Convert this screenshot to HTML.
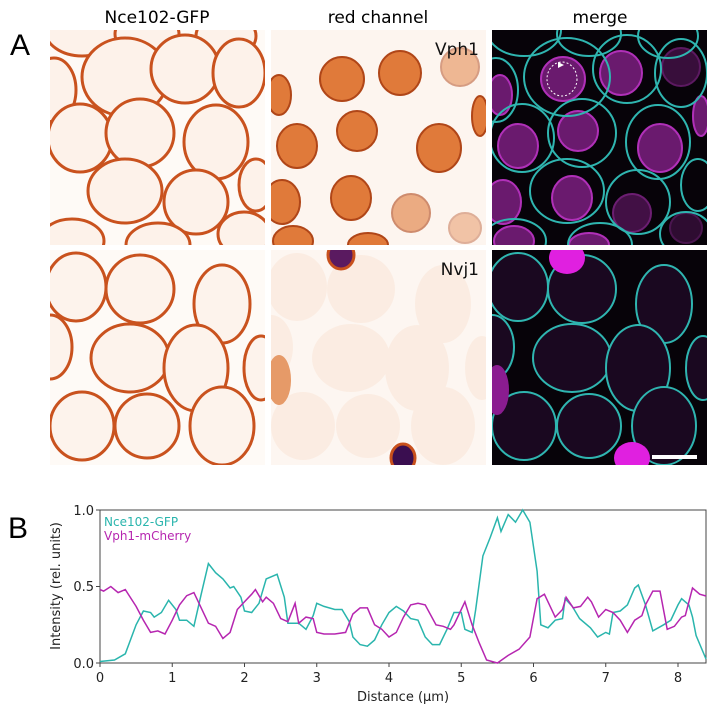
<!DOCTYPE html>
<html><head><meta charset="utf-8"><style>
body{margin:0;background:#fff;width:714px;height:709px;overflow:hidden;font-family:"DejaVu Sans","Liberation Sans",sans-serif;}
</style></head><body>
<svg width="714" height="709" viewBox="0 0 714 709" xmlns="http://www.w3.org/2000/svg">
<defs>
<g id="topCells">
<ellipse cx="32" cy="0" rx="37" ry="26"/><ellipse cx="97" cy="4" rx="32" ry="22"/><ellipse cx="176" cy="6" rx="30" ry="22"/>
<ellipse cx="75" cy="47" rx="43" ry="39"/><ellipse cx="135" cy="39" rx="34" ry="34"/><ellipse cx="189" cy="43" rx="26" ry="34"/>
<ellipse cx="4" cy="60" rx="22" ry="32"/><ellipse cx="30" cy="108" rx="32" ry="34"/><ellipse cx="90" cy="103" rx="34" ry="34"/>
<ellipse cx="166" cy="112" rx="32" ry="37"/><ellipse cx="75" cy="161" rx="37" ry="32"/><ellipse cx="146" cy="172" rx="32" ry="32"/>
<ellipse cx="206" cy="155" rx="17" ry="26"/><ellipse cx="22" cy="211" rx="32" ry="22"/><ellipse cx="108" cy="215" rx="32" ry="22"/>
<ellipse cx="194" cy="204" rx="26" ry="22"/>
</g>
<g id="botCells">
<ellipse cx="26" cy="37" rx="30" ry="34"/><ellipse cx="90" cy="39" rx="34" ry="34"/><ellipse cx="172" cy="54" rx="28" ry="39"/>
<ellipse cx="80" cy="108" rx="39" ry="34"/><ellipse cx="146" cy="118" rx="32" ry="43"/><ellipse cx="0" cy="97" rx="22" ry="32"/>
<ellipse cx="32" cy="176" rx="32" ry="34"/><ellipse cx="97" cy="176" rx="32" ry="32"/><ellipse cx="172" cy="176" rx="32" ry="39"/>
<ellipse cx="211" cy="118" rx="17" ry="32"/>
</g>
<g id="topVac">
<ellipse cx="71" cy="49" rx="22" ry="22"/><ellipse cx="129" cy="43" rx="21" ry="22"/><ellipse cx="189" cy="37" rx="19" ry="19" opacity="0.5"/>
<ellipse cx="8" cy="65" rx="12" ry="20"/><ellipse cx="86" cy="101" rx="20" ry="20"/><ellipse cx="26" cy="116" rx="20" ry="22"/>
<ellipse cx="168" cy="118" rx="22" ry="24"/><ellipse cx="11" cy="172" rx="18" ry="22"/><ellipse cx="80" cy="168" rx="20" ry="22"/>
<ellipse cx="140" cy="183" rx="19" ry="19" opacity="0.6"/><ellipse cx="194" cy="198" rx="16" ry="15" opacity="0.4"/>
<ellipse cx="22" cy="211" rx="20" ry="15"/><ellipse cx="97" cy="215" rx="20" ry="12"/><ellipse cx="209" cy="86" rx="8" ry="20"/>
</g>
<clipPath id="cp"><rect x="0" y="0" width="215" height="215"/></clipPath>
</defs>

<text x="10" y="55" font-size="30" font-family="Liberation Sans, sans-serif">A</text>
<text x="8" y="538" font-size="30" font-family="Liberation Sans, sans-serif">B</text>
<text x="157" y="23" font-size="17" text-anchor="middle">Nce102-GFP</text>
<text x="378" y="23" font-size="17" text-anchor="middle">red channel</text>
<text x="600" y="23" font-size="17" text-anchor="middle">merge</text>

<g transform="translate(50,30)" clip-path="url(#cp)">
<rect width="215" height="215" fill="#fefaf6"/>
<use href="#topCells" fill="#fdf2ea" stroke="#c9521e" stroke-width="3"/>
</g>
<g transform="translate(271,30)" clip-path="url(#cp)">
<rect width="215" height="215" fill="#fdf5ef"/>
<use href="#topVac" fill="#e07a3a" stroke="#b04618" stroke-width="2"/>
<text x="208" y="25" font-size="17" text-anchor="end" fill="#111">Vph1</text>
</g>
<g transform="translate(492,30)" clip-path="url(#cp)">
<rect width="215" height="215" fill="#070309"/>
<use href="#topVac" fill="#6a1a6e" stroke="#b030b8" stroke-width="2"/>
<use href="#topCells" fill="none" stroke="#2fb5b0" stroke-width="2"/>
<ellipse cx="70" cy="49" rx="15" ry="17" fill="none" stroke="#fff" stroke-width="1" stroke-dasharray="2,2"/>
<path d="M66 32 l6 3 -6 3z" fill="#fff"/>
</g>
<g transform="translate(50,250)" clip-path="url(#cp)">
<rect width="215" height="215" fill="#fefaf6"/>
<use href="#botCells" fill="#fdf3ec" stroke="#c9521e" stroke-width="3"/>
</g>
<g transform="translate(271,250)" clip-path="url(#cp)">
<rect width="215" height="215" fill="#fdf6f1"/>
<use href="#botCells" fill="#f8dcc8" stroke="none" opacity="0.35"/>
<ellipse cx="8" cy="130" rx="12" ry="25" fill="#e69a68"/>
<ellipse cx="70" cy="5" rx="13" ry="14" fill="#5a1a60" stroke="#c8501c" stroke-width="3"/>
<ellipse cx="132" cy="208" rx="12" ry="14" fill="#3a0e50" stroke="#c8501c" stroke-width="3"/>
<text x="208" y="25" font-size="17" text-anchor="end" fill="#111">Nvj1</text>
</g>
<g transform="translate(492,250)" clip-path="url(#cp)">
<rect width="215" height="215" fill="#070309"/>
<use href="#botCells" fill="#1a0820" stroke="#2fb5b0" stroke-width="2"/>
<ellipse cx="75" cy="8" rx="18" ry="16" fill="#e020e0"/>
<ellipse cx="140" cy="208" rx="18" ry="16" fill="#e020e0"/>
<ellipse cx="5" cy="140" rx="12" ry="25" fill="#8a1c90"/>
<rect x="160" y="205" width="45" height="4" fill="#fff"/>
</g>

<rect x="100" y="510" width="606" height="153" fill="none" stroke="#444" stroke-width="1"/>
<g stroke="#444" stroke-width="1">
<line x1="96" y1="510" x2="100" y2="510"/><line x1="96" y1="586.5" x2="100" y2="586.5"/><line x1="96" y1="663" x2="100" y2="663"/>
<line x1="100" y1="663" x2="100" y2="667"/><line x1="172.25" y1="663" x2="172.25" y2="667"/><line x1="244.5" y1="663" x2="244.5" y2="667"/><line x1="316.75" y1="663" x2="316.75" y2="667"/><line x1="389" y1="663" x2="389" y2="667"/><line x1="461.25" y1="663" x2="461.25" y2="667"/><line x1="533.5" y1="663" x2="533.5" y2="667"/><line x1="605.75" y1="663" x2="605.75" y2="667"/><line x1="678" y1="663" x2="678" y2="667"/>
</g>
<g font-size="13" fill="#222" text-anchor="end">
<text x="94" y="515">1.0</text><text x="94" y="591">0.5</text><text x="94" y="668">0.0</text>
</g>
<g font-size="13" fill="#222" text-anchor="middle">
<text x="100" y="682">0</text><text x="172.25" y="682">1</text><text x="244.5" y="682">2</text><text x="316.75" y="682">3</text><text x="389" y="682">4</text><text x="461.25" y="682">5</text><text x="533.5" y="682">6</text><text x="605.75" y="682">7</text><text x="678" y="682">8</text>
</g>
<text x="403" y="701" font-size="13" text-anchor="middle" fill="#222">Distance (μm)</text>
<text transform="translate(60,586) rotate(-90)" font-size="13" text-anchor="middle" fill="#222">Intensity (rel. units)</text>
<text x="104" y="526" font-size="12" fill="#2ab5ad">Nce102-GFP</text>
<text x="104" y="540" font-size="12" fill="#b626b0">Vph1-mCherry</text>

<polyline fill="none" stroke="#2ab5ad" stroke-width="1.5" points="
100,661.5 114.5,660 125.3,653.8 136.1,624.8 143.4,611 150.6,612.5 154.2,617.1 161.4,612.5 168.6,600.3 175.9,609.5 179.5,620.2 186.7,620.2 193.9,626.3 201.2,594.2 208.4,563.6 215.6,572.7 222.9,578.9 230.1,588 233.7,586.5 240.9,597.2 244.5,611 251.7,612.5 259,603.3 266.2,578.9 277.1,574.3 284.3,597.2 287.9,623.2 298.7,623.2 306,629.3 313.2,615.6 316.75,603.3 324,606.4 334.8,609.5 342,609.5 349.3,621.7 352.9,637 360.1,644.6 367.4,646.2 374.6,640 381.8,624.8 389,612.5 396.3,606.4 403.5,611 410.7,618.6 418,620.2 425.2,637 432.4,644.6 439.6,644.6 447,629.3 454,612.5 461.25,612.5 464.9,629.3 472.1,632.4 475.7,609.5 482.9,555.9 490.2,537.5 497.4,517.7 501,531.4 508.2,514.6 515.5,522.2 522.7,510 529.9,522.2 537.1,571.2 540.8,624.8 548,627.8 555.2,620.2 562.5,618.6 565.1,598.7 572.3,606.4 579.6,618.6 590.4,627.8 597.6,637 605.75,632.4 609.4,634 613,612.5 620.2,611 627.4,604.9 634.7,588 638.3,585 645.5,604.9 652.8,630.9 663.6,624.8 670.8,620.2 678,604.9 681.6,598.7 688.9,604.9 692.5,617.1 696.1,635.5 706,659"/>
<polyline fill="none" stroke="#b626b0" stroke-width="1.5" points="
100,589.6 103.6,591.1 110.8,586.5 118.1,592.6 125.3,589.6 136.1,606.4 143.4,620.2 150.6,632.4 157.8,630.9 165,634 172.25,620.2 179.5,604.9 186.7,595.7 193.9,592.6 201.2,607.9 208.4,623.2 215.6,626.3 222.9,638.5 230.1,632.4 237.3,609.5 244.5,601.8 251.7,594.2 255.4,589.6 262.6,601.8 266.2,597.2 273.4,603.3 280.7,618.6 287.9,621.7 295.1,603.3 298.7,623.2 306,617.1 313.2,618.6 316.75,632.4 324,634 334.8,634 345.6,632.4 352.9,614 360.1,607.9 367.4,607.9 374.6,624.8 381.8,629.3 389,637 396.3,632.4 403.5,617.1 410.7,604.9 418,603.3 425.2,604.9 436,624.8 443.2,626.3 450.5,629.3 454,624.8 461.25,609.5 464.9,601.8 472.1,624.8 479.3,643.1 486.6,660 497.4,663 508.2,655.4 519.1,649.2 529.9,637 537.1,598.7 544.4,594.2 555.2,617.1 562.5,609.5 566.1,597.2 573.3,607.9 580.5,606.4 587.7,597.2 591.4,601.8 598.6,617.1 605.75,609.5 613,612.5 620.2,620.2 627.4,632.4 634.7,620.2 641.9,615.6 645.5,604.9 652.8,591.1 660,591.1 667.2,629.3 674.4,626.3 681.6,617.1 685.3,615.6 692.5,588 699.7,594.2 706,596"/>
</svg>
</body></html>
